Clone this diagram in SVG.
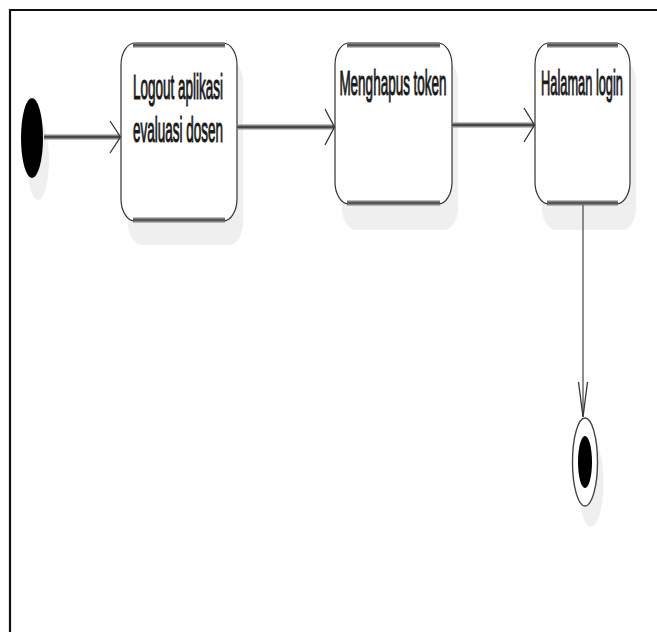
<svg xmlns="http://www.w3.org/2000/svg" width="657" height="632" viewBox="0 0 657 632">
  <style>
    .frame { fill: none; stroke: #111; stroke-width: 2.2; }
    .shadow { fill: #efefef; }
    .box { fill: #fff; stroke: #333; stroke-width: 1.2; }
    .band { stroke: #808080; stroke-width: 5; stroke-linecap: butt; }
    .band-core { stroke: #4a4a4a; stroke-width: 1.4; }
    .label { font-family: "Liberation Sans", Arial, sans-serif; font-size: 13.5px; fill: #1a1a1a; stroke: #1a1a1a; stroke-width: 0.45; text-anchor: middle; }
    .flow { stroke: #858585; stroke-width: 5; fill: none; }
    .flow-core { stroke: #333; stroke-width: 1.4; fill: none; }
    .vflow { stroke: #444; stroke-width: 1.2; fill: none; }
    .head { stroke: #333; stroke-width: 1.3; fill: none; stroke-linejoin: miter; }
  </style>

  <rect width="657" height="632" fill="#fff"/>

  <!-- diagram frame (top and left edges; it runs past the canvas) -->
  <path class="frame" d="M10,700 L10,10 L700,10"/>

  <!-- initial state -->
  <g id="start">
    <ellipse class="shadow" cx="38" cy="160" rx="11" ry="40"/>
    <ellipse cx="32" cy="138" rx="11" ry="40" fill="#000"/>
  </g>

  <!-- action: Logout aplikasi evaluasi dosen -->
  <g id="logout">
    <rect class="shadow" x="128" y="60" width="115" height="185" rx="14" ry="22"/>
    <rect class="box" x="121" y="43" width="116" height="178" rx="14" ry="22"/>
    <line class="band" x1="133" y1="45" x2="225" y2="45"/>
    <line class="band-core" x1="133" y1="45" x2="225" y2="45"/>
    <line class="band" x1="133" y1="220" x2="225" y2="220"/>
    <line class="band-core" x1="133" y1="220" x2="225" y2="220"/>
    <text class="label" transform="translate(178,99) scale(1,2.55)">Logout aplikasi</text>
    <text class="label" transform="translate(178,142) scale(1,2.55)">evaluasi dosen</text>
  </g>

  <!-- action: Menghapus token -->
  <g id="hapus-token">
    <rect class="shadow" x="342" y="60" width="116" height="170" rx="14" ry="22"/>
    <rect class="box" x="335" y="43" width="117" height="161" rx="14" ry="22"/>
    <line class="band" x1="347" y1="45" x2="440" y2="45"/>
    <line class="band-core" x1="347" y1="45" x2="440" y2="45"/>
    <line class="band" x1="347" y1="203" x2="440" y2="203"/>
    <line class="band-core" x1="347" y1="203" x2="440" y2="203"/>
    <text class="label" transform="translate(393,95) scale(1,2.55)">Menghapus token</text>
  </g>

  <!-- action: Halaman login -->
  <g id="halaman-login">
    <rect class="shadow" x="542" y="60" width="94" height="170" rx="14" ry="22"/>
    <rect class="box" x="535" y="43" width="95" height="161" rx="14" ry="22"/>
    <line class="band" x1="547" y1="45" x2="618" y2="45"/>
    <line class="band-core" x1="547" y1="45" x2="618" y2="45"/>
    <line class="band" x1="547" y1="203" x2="618" y2="203"/>
    <line class="band-core" x1="547" y1="203" x2="618" y2="203"/>
    <text class="label" transform="translate(582,95) scale(0.95,2.55)">Halaman login</text>
  </g>

  <!-- final state -->
  <g id="end">
    <ellipse class="shadow" cx="591" cy="483" rx="12.5" ry="44"/>
    <ellipse cx="585" cy="462" rx="12.5" ry="44" fill="#fff" stroke="#444" stroke-width="1.4"/>
    <ellipse cx="585" cy="462" rx="7" ry="26" fill="#000"/>
  </g>

  <!-- control flows -->
  <g id="flows">
    <line class="flow" x1="44" y1="137" x2="120" y2="137"/>
    <line class="flow-core" x1="44" y1="137" x2="120" y2="137"/>
    <path class="head" d="M110,121 L120.5,137 L110,153"/>

    <line class="flow" x1="237" y1="127" x2="334" y2="127"/>
    <line class="flow-core" x1="237" y1="127" x2="334" y2="127"/>
    <path class="head" d="M325,109 L334.5,127 L325,145"/>

    <line class="flow" x1="452" y1="125" x2="534" y2="125"/>
    <line class="flow-core" x1="452" y1="125" x2="534" y2="125"/>
    <path class="head" d="M524,108 L534.5,125 L524,142"/>

    <line class="vflow" x1="583" y1="205" x2="583" y2="417"/>
    <path class="head" d="M578.5,382 L583,417 L587.5,382"/>
  </g>
</svg>
